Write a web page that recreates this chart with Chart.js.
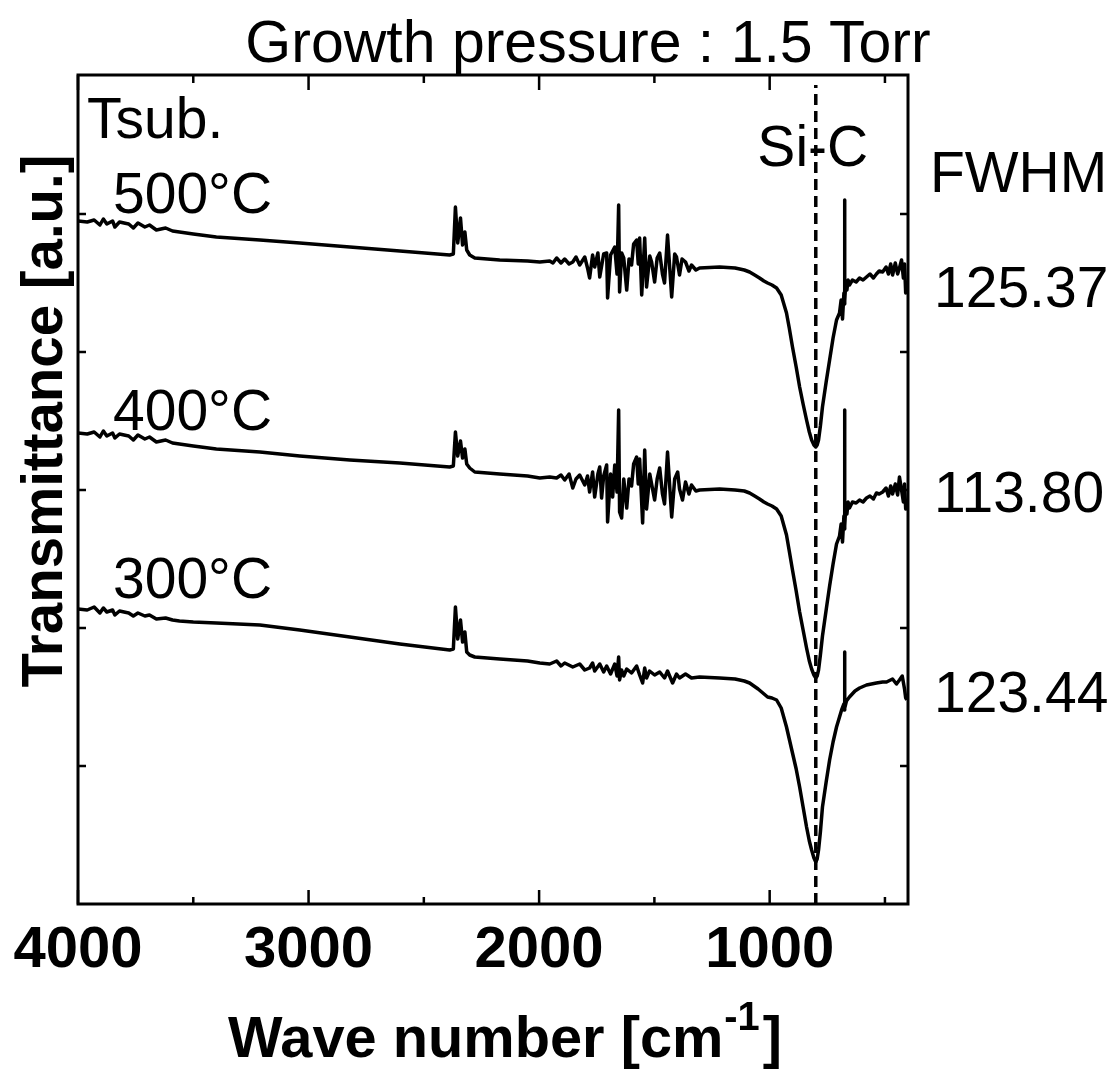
<!DOCTYPE html>
<html>
<head>
<meta charset="utf-8">
<title>FTIR - Growth pressure 1.5 Torr</title>
<script src="https://cdn.jsdelivr.net/npm/chart.js@4.4.1/dist/chart.umd.min.js"></script>
<style>
  html, body { margin: 0; padding: 0; background: #fff; }
  canvas { display: block; }
</style>
</head>
<body>
<canvas id="ftir" width="1115" height="1072"></canvas>
<script>
// axis ticks (wave number, cm-1) and the unlabelled transmittance ticks (a.u.)
const xTickLabels = [4000, 3000, 2000, 1000];
const xMinorTicks = [3500, 2500, 1500, 500];
const yTickValues = [138, 276, 414, 552, 690];
const siCPosition = 800;

const temperatures = ['500°C', '400°C', '300°C'];
const fwhmValues = ['125.37', '113.80', '123.44'];

// Tsub = 500 C
const wave500 = [4000, 3960, 3930, 3905, 3890, 3875, 3850, 3840, 3820, 3780, 3760, 3740, 3710, 3690, 3660, 3620, 3590, 3560, 3500, 3400, 3211, 3038, 2821, 2604, 2388, 2372, 2363, 2353, 2341, 2332, 2322, 2314, 2301, 2279, 2171, 2050, 1997,
  1954, 1940, 1924, 1905, 1889, 1870, 1854, 1840, 1824, 1802, 1790, 1781, 1768, 1759, 1745, 1737, 1720, 1707, 1703, 1690, 1672, 1662, 1655, 1651, 1642, 1633, 1620, 1610, 1599, 1590, 1577, 1570, 1564, 1555, 1542, 1534, 1520, 1512, 1499, 1488, 1477, 1465, 1456, 1443, 1425, 1412, 1404, 1391, 1380, 1365, 1350, 1339, 1320, 1304,
  1217, 1150, 1110, 1087, 1065, 1044, 1025, 1009, 990, 970, 950, 927, 915, 901, 885, 870, 855, 840, 828, 818, 808, 800, 794, 788, 780, 771, 755, 740, 725, 710, 697, 690, 684, 678, 676, 675, 674, 670, 665, 660, 654, 641, 625, 610, 595, 580, 565, 550, 537, 525, 510, 495, 485, 475, 467, 455, 445, 437, 428, 420, 415, 410, 405];
const trans500 = [683, 682, 684, 679, 685, 680, 683, 677, 682, 680, 676, 681, 677, 679, 674, 676, 673, 672, 670, 667, 664, 661, 657, 653, 649, 650, 697, 661, 686, 659, 672, 654, 649, 646, 644, 643, 642,
  643, 641, 646, 641, 645, 640, 642, 647, 639, 647, 636, 626, 649, 637, 651, 627, 650, 651, 606, 649, 657, 630, 699, 612, 651, 646, 614, 645, 639, 660, 664, 640, 666, 609, 666, 617, 648, 642, 622, 646, 651, 630, 621, 669, 607, 650, 647, 629, 645, 642, 633, 639, 634, 636,
  637, 636, 634, 632, 629, 626, 623, 621, 619, 616, 609, 591, 576, 557, 537, 517, 500, 484, 472, 464, 459, 457, 459, 464, 478, 497, 522, 544, 566, 584, 591, 604, 585, 611, 600, 704, 603, 621, 614, 624, 619, 624, 622, 626, 624, 627, 630, 626, 630, 633, 632, 637, 630, 640, 629, 641, 630, 636, 644, 626, 640, 611, 620];

// Tsub = 400 C
const wave400 = [4000, 3960, 3930, 3905, 3890, 3875, 3850, 3840, 3820, 3780, 3760, 3740, 3710, 3690, 3660, 3620, 3590, 3560, 3500, 3400, 3211, 3038, 2821, 2604, 2388, 2372, 2363, 2353, 2341, 2332, 2322, 2314, 2301, 2279, 2171, 2050, 1997,
  1954, 1924, 1905, 1889, 1870, 1854, 1840, 1824, 1802, 1790, 1781, 1768, 1759, 1745, 1737, 1729, 1720, 1707, 1703, 1690, 1681, 1672, 1662, 1655, 1651, 1642, 1633, 1620, 1610, 1599, 1590, 1577, 1570, 1564, 1551, 1542, 1534, 1520, 1512, 1499, 1488, 1477, 1465, 1456, 1443, 1425, 1412, 1399, 1391, 1378, 1365, 1350, 1339, 1320, 1304,
  1217, 1150, 1110, 1087, 1065, 1044, 1025, 1009, 990, 970, 950, 927, 915, 901, 885, 870, 855, 840, 828, 818, 808, 800, 794, 788, 780, 771, 755, 740, 725, 710, 697, 690, 684, 678, 676, 675, 674, 670, 665, 660, 654, 641, 625, 610, 595, 580, 565, 550, 537, 525, 510, 495, 485, 475, 467, 455, 445, 437, 428, 420, 415, 410, 405];
const trans400 = [471, 470, 472, 467, 473, 468, 471, 466, 470, 468, 464, 469, 465, 467, 462, 464, 461, 460, 458, 455, 452, 448, 444, 441, 437, 438, 472, 448, 463, 446, 455, 440, 436, 432, 430, 428, 426,
  427, 426, 429, 424, 430, 416, 425, 429, 419, 428, 412, 432, 407, 430, 437, 406, 428, 439, 382, 430, 407, 439, 412, 494, 392, 386, 425, 396, 425, 418, 440, 447, 420, 445, 381, 454, 395, 430, 420, 404, 425, 436, 410, 400, 452, 387, 425, 432, 415, 404, 422, 410, 419, 413, 414,
  415, 414, 413, 411, 408, 405, 402, 400, 398, 395, 388, 369, 353, 334, 313, 292, 274, 256, 243, 235, 229, 226, 228, 234, 249, 268, 294, 318, 340, 360, 368, 380, 362, 388, 375, 494, 378, 397, 390, 402, 396, 402, 401, 404, 402, 406, 408, 405, 411, 410, 412, 416, 408, 418, 410, 420, 409, 427, 414, 402, 420, 395, 405];

// Tsub = 300 C
const wave300 = [4000, 3960, 3930, 3905, 3890, 3875, 3850, 3840, 3820, 3780, 3760, 3740, 3710, 3690, 3660, 3620, 3590, 3560, 3500, 3400, 3211, 3038, 2821, 2604, 2388, 2372, 2363, 2353, 2341, 2332, 2322, 2314, 2301, 2279, 2171, 2050, 1997,
  1954, 1924, 1905, 1889, 1854, 1824, 1802, 1781, 1768, 1759, 1737, 1720, 1707, 1690, 1672, 1662, 1655, 1651, 1642, 1633, 1620, 1599, 1577, 1564, 1551, 1542, 1534, 1521, 1499, 1477, 1456, 1443, 1421, 1404, 1391, 1365, 1339, 1304,
  1217, 1150, 1110, 1087, 1050, 1009, 990, 970, 950, 927, 915, 901, 885, 870, 855, 840, 828, 818, 808, 800, 794, 788, 780, 771, 755, 740, 725, 710, 688, 678, 676, 675, 674, 667, 654, 630, 610, 580, 537, 510, 493, 467, 450, 437, 425, 415, 410, 405];
const trans300 = [295, 294, 297, 291, 296, 292, 294, 289, 293, 291, 288, 291, 288, 289, 285, 286, 284, 283, 282, 281, 279, 274, 267, 260, 254, 255, 297, 265, 284, 262, 272, 252, 249, 247, 245, 243, 241,
  240, 243, 238, 241, 237, 240, 234, 236, 241, 233, 240, 232, 238, 230, 240, 228, 247, 224, 234, 228, 235, 231, 238, 229, 221, 236, 226, 233, 229, 232, 226, 233, 221, 230, 226, 230, 226, 227,
  226, 225, 223, 221, 215, 207, 206, 204, 196, 177, 165, 151, 135, 117, 97, 77, 63, 54, 46, 42, 45, 54, 72, 97, 122, 144, 162, 177, 194, 200, 194, 252, 196, 203, 207, 213, 216, 219, 221, 222, 222, 225, 220, 224, 228, 215, 206, 204];

const FONT = "'Liberation Sans', Arial, Helvetica, sans-serif";

const toPoints = (xs, ys) => xs.map((x, i) => ({ x, y: ys[i] }));

const spectrum = (xs, ys) => ({
  data: toPoints(xs, ys),
  borderColor: '#000',
  borderWidth: 3.5,
  borderJoinStyle: 'round',
  pointRadius: 0,
  tension: 0,
  fill: false,
});

const framePlugin = {
  id: 'frame',
  afterDraw(chart) {
    const { ctx, chartArea: a } = chart;
    const xs = chart.scales.x;
    const ys = chart.scales.y;

    ctx.save();
    ctx.strokeStyle = '#000';
    ctx.fillStyle = '#000';
    ctx.lineWidth = 3;
    ctx.strokeRect(a.left, a.top, a.right - a.left, a.bottom - a.top);

    ctx.lineWidth = 2.5;
    ctx.beginPath();
    xTickLabels.forEach((v) => {
      const px = xs.getPixelForValue(v);
      ctx.moveTo(px, a.bottom); ctx.lineTo(px, a.bottom - 14);
      ctx.moveTo(px, a.top); ctx.lineTo(px, a.top + 15);
    });
    xMinorTicks.forEach((v) => {
      const px = xs.getPixelForValue(v);
      ctx.moveTo(px, a.bottom); ctx.lineTo(px, a.bottom - 7);
      ctx.moveTo(px, a.top); ctx.lineTo(px, a.top + 8);
    });
    yTickValues.forEach((v) => {
      const py = ys.getPixelForValue(v);
      ctx.moveTo(a.left, py); ctx.lineTo(a.left + 8, py);
      ctx.moveTo(a.right, py); ctx.lineTo(a.right - 8, py);
    });
    ctx.stroke();

    // annotations
    ctx.textBaseline = 'alphabetic';
    ctx.textAlign = 'center';
    ctx.font = `59px ${FONT}`;
    ctx.fillText('Growth pressure : 1.5 Torr', 588, 62);
    ctx.font = `57px ${FONT}`;
    ctx.fillText('Si-C', xs.getPixelForValue(siCPosition) - 3, 166);

    ctx.textAlign = 'left';
    ctx.fillText('Tsub.', 87, 138);
    ctx.fillText('FWHM', 930, 192);
    const labelBaselines = [213, 430, 598];
    temperatures.forEach((t, i) => ctx.fillText(t, 113, labelBaselines[i]));
    const fwhmBaselines = [307, 512, 712];
    fwhmValues.forEach((f, i) => ctx.fillText(f, 934, fwhmBaselines[i]));

    // y title
    ctx.font = `bold 58px ${FONT}`;
    ctx.save();
    ctx.translate(62, 421);
    ctx.rotate(-Math.PI / 2);
    const yText = 'Transmittance [a.u.]';
    const yw = ctx.measureText(yText).width;
    ctx.scale(533 / yw, 1);
    ctx.textAlign = 'center';
    ctx.fillText(yText, 0, 0);
    ctx.restore();

    // x title with superscript
    ctx.textAlign = 'left';
    const main = 'Wave number [cm';
    ctx.font = `bold 58px ${FONT}`;
    const w1 = ctx.measureText(main).width;
    const w3 = ctx.measureText(']').width;
    ctx.font = `bold 40px ${FONT}`;
    const w2 = ctx.measureText('-1').width;
    const total = w1 + w2 + 4 + w3;
    const s = 554 / total;
    ctx.save();
    ctx.translate(228, 0);
    ctx.scale(s, 1);
    ctx.font = `bold 58px ${FONT}`;
    ctx.fillText(main, 0, 1057);
    ctx.fillText(']', w1 + w2 + 4, 1057);
    ctx.font = `bold 40px ${FONT}`;
    ctx.fillText('-1', w1 + 1, 1030);
    ctx.restore();

    ctx.restore();
  },
};

new Chart(document.getElementById('ftir'), {
  type: 'line',
  data: {
    datasets: [
      spectrum(wave500, trans500),
      spectrum(wave400, trans400),
      spectrum(wave300, trans300),
      {
        data: [{ x: siCPosition, y: 0 }, { x: siCPosition, y: 819 }],
        borderColor: '#000',
        borderWidth: 3.5,
        borderDash: [11, 6],
        pointRadius: 0,
      },
    ],
  },
  options: {
    responsive: false,
    animation: false,
    devicePixelRatio: 1,
    layout: { padding: { left: 78, right: 207, top: 75, bottom: 0 } },
    plugins: {
      legend: { display: false },
      tooltip: { enabled: false },
    },
    scales: {
      x: {
        type: 'linear',
        reverse: true,
        min: 400,
        max: 4000,
        afterBuildTicks: (scale) => {
          scale.ticks = xTickLabels.map((value) => ({ value }));
        },
        afterFit: (scale) => {
          scale.height = 168;
        },
        grid: { display: false, drawTicks: false },
        border: { display: false },
        ticks: {
          autoSkip: false,
          maxRotation: 0,
          padding: 12,
          color: '#000',
          font: { family: FONT, size: 58, weight: 'bold' },
          callback: (value) => String(value),
        },
      },
      y: {
        display: false,
        min: 0,
        max: 829,
      },
    },
  },
  plugins: [framePlugin],
});
</script>
</body>
</html>
